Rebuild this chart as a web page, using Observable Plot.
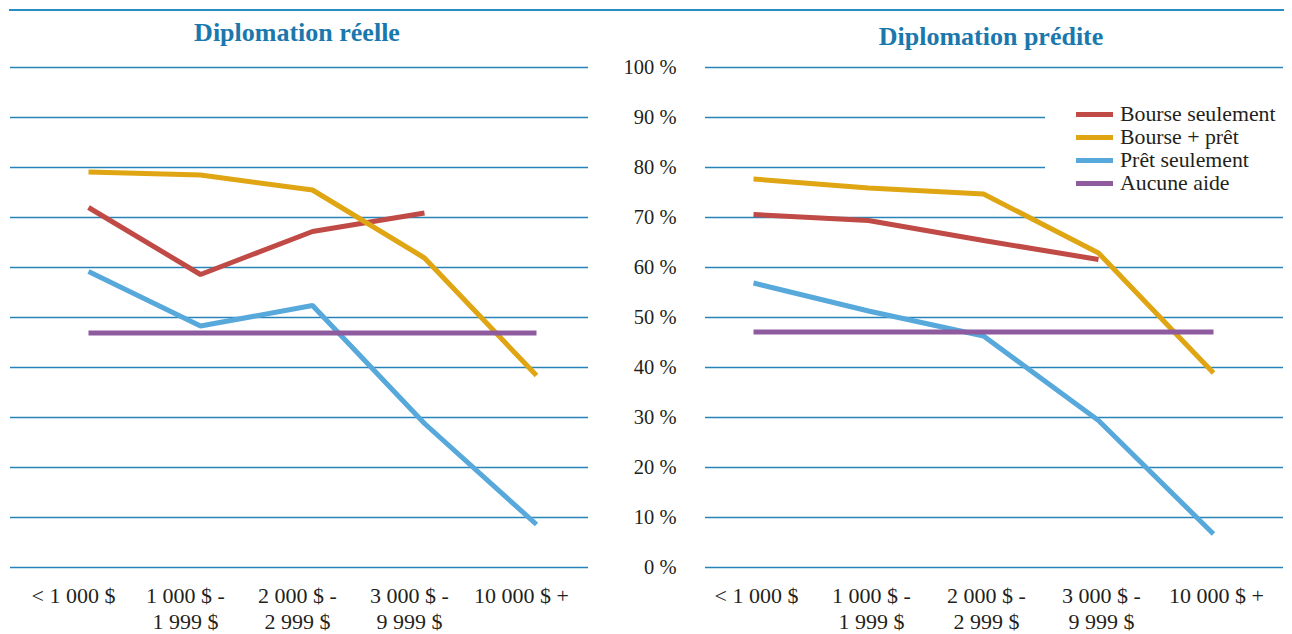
<!DOCTYPE html>
<html><head><meta charset="utf-8">
<script src="https://cdn.jsdelivr.net/npm/d3@7"></script>
<script src="https://cdn.jsdelivr.net/npm/@observablehq/plot@0.6"></script>
<style>
body{margin:0;background:#fff;width:1292px;height:634px;position:relative;overflow:hidden;font-family:"Liberation Serif",serif;color:#231f20}
#topline{position:absolute;left:9px;top:9px;width:1275px;height:2px;background:#2a8cc4;}
.title{position:absolute;font-weight:bold;color:#1b78ad;font-size:26px;line-height:26px;transform:translateX(-50%);white-space:nowrap}
#left,#right{position:absolute;top:47px}
#left{left:0}#right{left:600px}
#legend{position:absolute;left:1045px;top:100px;width:238px;height:95px;background:#fff;}
.row{position:absolute;left:31px;display:flex;align-items:center;font-size:21.8px;height:23px;white-space:nowrap}
.sw{width:37px;height:5px;margin-right:7px}
</style></head><body>
<div id="topline"></div>
<div class="title" style="left:297px;top:20px">Diplomation réelle</div>
<div class="title" style="left:991px;top:24px">Diplomation prédite</div>
<div id="left"></div>
<div id="right"></div>
<div id="legend"></div>
<script>
const categories = ["< 1 000 $", "1 000 $ -\n1 999 $", "2 000 $ -\n2 999 $", "3 000 $ -\n9 999 $", "10 000 $ +"];
const series = ["Bourse seulement", "Bourse + prêt", "Prêt seulement", "Aucune aide"];
const colors = ["#c04a45", "#dfa512", "#57a8db", "#8e5b9f"];
const yTicks = [0, 10, 20, 30, 40, 50, 60, 70, 80, 90, 100];

// Diplomation réelle
const reelleBourse = [72.0, 58.6, 67.2, 70.9, null];
const reelleBoursePret = [79.1, 78.5, 75.5, 61.9, 38.4];
const reellePret = [59.2, 48.3, 52.4, 28.8, 8.6];
const reelleAucune = [46.9, 46.9, 46.9, 46.9, 46.9];

// Diplomation prédite
const preditBourse = [70.6, 69.4, 65.4, 61.6, null];
const preditBoursePret = [77.7, 75.9, 74.7, 62.9, 38.9];
const preditPret = [56.9, 51.3, 46.3, 29.4, 6.7];
const preditAucune = [47.1, 47.1, 47.1, 47.1, 47.1];

function rows(lists) {
  return lists.flatMap((vals, si) => vals.map((v, i) => ({cat: categories[i], value: v, series: series[si]})));
}
const reelle = rows([reelleBourse, reelleBoursePret, reellePret, reelleAucune]);
const predit = rows([preditBourse, preditBoursePret, preditPret, preditAucune]);

const gridColor = "#2883b8";

function panel(data, opts) {
  return Plot.plot({
    width: opts.width, height: 587,
    marginTop: 20, marginBottom: 67, marginLeft: opts.ml, marginRight: opts.mr,
    x: {type: "point", domain: categories, range: opts.xr, padding: 0, label: null},
    y: {domain: [0, 100], axis: null, label: null},
    color: {domain: series, range: colors},
    style: {fontFamily: "Liberation Serif", fontSize: "22px", color: "#231f20", overflow: "visible", background: "transparent"},
    marks: [
      Plot.ruleY(yTicks, {stroke: gridColor, strokeWidth: 1.3}),
      Plot.line(data, {x: "cat", y: "value", z: "series", stroke: "series", strokeWidth: 5, strokeLinecap: "butt", strokeLinejoin: "miter"}),
      Plot.axisX({tickSize: 0, tickPadding: 17, dx: opts.dx, lineHeight: 1.18, fontSize: 22, label: null}),
      ...(opts.yaxis ? [Plot.axisY(yTicks, {tickSize: 0, tickPadding: 29, tickFormat: d => d + " %", fontSize: 20.5, label: null})] : [])
    ]
  });
}

document.getElementById("left").append(panel(reelle, {width: 600, ml: 10, mr: 12, xr: [86, 537], dx: -15, yaxis: false}));
document.getElementById("right").append(panel(predit, {width: 692, ml: 105, mr: 9, xr: [151, 614], dx: 3, yaxis: true}));

const legend = document.getElementById("legend");
series.forEach((s, i) => {
  const r = document.createElement("div");
  r.className = "row";
  r.style.top = (2.5 + i * 23) + "px";
  r.innerHTML = `<span class="sw" style="background:${colors[i]}"></span><span>${s}</span>`;
  legend.append(r);
});
</script>
</body></html>
